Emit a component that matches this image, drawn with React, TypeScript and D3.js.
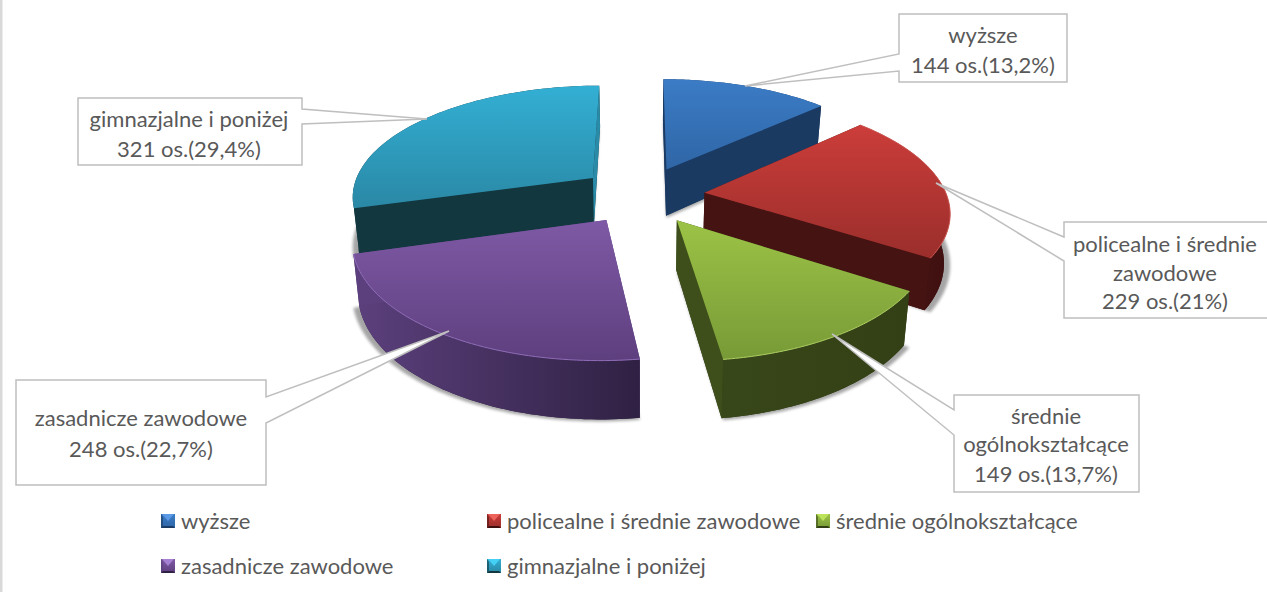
import React from 'react';
import * as d3 from 'd3';

const categories = ['wyższe', 'policealne i średnie zawodowe', 'średnie ogólnokształcące', 'zasadnicze zawodowe', 'gimnazjalne i poniżej'];
const counts = [144, 229, 149, 248, 321];

// callout text, one entry per category
const calloutLines = [
  ['wyższe', '144 os.(13,2%)'],
  ['policealne i średnie', 'zawodowe', '229 os.(21%)'],
  ['średnie', 'ogólnokształcące', '149 os.(13,7%)'],
  ['zasadnicze zawodowe', '248 os.(22,7%)'],
  ['gimnazjalne i poniżej', '321 os.(29,4%)'],
];

const faceTop = ['#3b7cc6', '#cb3d3a', '#9cc346', '#7e59a5', '#33afd4'];
const faceBottom = ['#2f66a6', '#9a2e2b', '#789a37', '#5e3f7e', '#2a88a5'];
const wallLeft = ['#1b3b64', '#4c1514', '#38471a', '#5c407d', '#12373f'];
const wallRight = ['#1b3b64', '#3f1010', '#334015', '#2f2143', '#12373f'];
const endWallFill = ['#1b3a62', '#451312', '#3e4f1c', '#5c407d', '#2a8ba8'];
const rimColor = ['none', '#d05a55', '#aecf63', '#8f6db8', 'none'];
const markerLight = ['#5b9ae6', '#ee625c', '#bce35a', '#a47fd2', '#45d0f5'];

// draw order, back to front
const paintOrder = [0, 4, 1, 3, 2];

// pie projection
const cx = 642;
const cy = 195;
const radiusX = 242;
const radiusY = 111;
const perspective = 0.151;
const explode = 0.26;
const depth = 48;
const bottomShrink = 0.98;

const callouts = [
  { x: 899, y: 14, w: 168, h: 68, tip: [745, 86], a: 54, b: 71, tx: 983, ty: [35, 65] },
  { x: 1064, y: 222, w: 204, h: 96, tip: [936, 183], a: 237, b: 261, tx: 1165, ty: [244, 273, 301] },
  { x: 954, y: 395, w: 185, h: 97, tip: [832, 334], a: 410, b: 435, tx: 1046, ty: [416, 444, 474] },
  { x: 16, y: 380, w: 250, h: 105, tip: [449, 331], a: 397, b: 423, tx: 141, ty: [418, 449] },
  { x: 78, y: 98, w: 224, h: 67, tip: [427, 119], a: 109, b: 124, tx: 189, ty: [119, 149] },
];

const legendPos = [[161, 521], [487, 521], [816, 521], [161, 566], [487, 566]];
const FONT = 'Lato, "Open Sans", sans-serif';
const TEXT = '#595959';
const LABEL_SIZE = 22;

type P = [number, number];

const project = (u: number, c: number, low: boolean): P => {
  const d = 1 + perspective * c;
  const sx = (radiusX * u) / d;
  return [cx + (low ? sx * bottomShrink : sx), cy - (radiusY * c) / d + (low ? depth / d : 0)];
};

const line = d3.line<P>().x(d => d[0]).y(d => d[1]);
const closed = (pts: P[]) => line(pts) + 'Z';

const arcs = d3.pie<number>().sort(null)(counts);

const slices = arcs.map((a, i) => {
  const mid = (a.startAngle + a.endAngle) / 2;
  const ou = explode * Math.sin(mid);
  const oc = explode * Math.cos(mid);
  const angles = d3.range(0, 61).map(j => a.startAngle + ((a.endAngle - a.startAngle) * j) / 60);
  const at = (t: number, low: boolean) => project(ou + Math.sin(t), oc + Math.cos(t), low);
  const apexT = project(ou, oc, false);
  const apexB = project(ou, oc, true);
  const arcT = angles.map(t => at(t, false));
  const arcB = angles.map(t => at(t, true));
  const shadow = angles.map(t => {
    const p = project(ou + Math.sin(t), oc + Math.cos(t), false);
    const d = 1 + perspective * (oc + Math.cos(t));
    return [p[0], p[1] + depth / d + 2] as P;
  });
  const apexS: P = [apexT[0], apexB[1] + 2];
  return {
    i,
    top: closed([apexT, ...arcT]),
    rim: line(arcT) as string,
    outer: closed([...arcT, ...[...arcB].reverse()]),
    start: closed([apexT, arcT[0], arcB[0], apexB]),
    end: closed([apexT, arcT[60], arcB[60], apexB]),
    bottom: closed([apexB, ...arcB]),
    shadow: closed([apexS, ...shadow]),
  };
});

const calloutPath = (c: typeof callouts[number], i: number) => {
  const r = c.x + c.w;
  const b = c.y + c.h;
  // the wedge leaves the box on the side that faces the pie
  const pts: P[] = i === 0 || i === 1 || i === 2
    ? [[c.x, c.y], [r, c.y], [r, b], [c.x, b], [c.x, c.b], c.tip as P, [c.x, c.a]]
    : [[c.x, c.y], [r, c.y], [r, c.a], c.tip as P, [r, c.b], [r, b], [c.x, b]];
  return closed(pts);
};

export default function App() {
  return (
    <svg
      width={1267}
      height={592}
      viewBox="0 0 1267 592"
      style={{ position: 'absolute', left: 0, top: 0, background: '#fff', fontFamily: FONT }}
    >
      <defs>
        <filter id="soft" x="-10%" y="-10%" width="120%" height="120%">
          <feGaussianBlur stdDeviation="1.5" />
        </filter>
        {categories.map((_, i) => (
          <React.Fragment key={i}>
            <linearGradient id={`face${i}`} x1="0" y1="0" x2="0" y2="1">
              <stop offset="0" stopColor={faceTop[i]} />
              <stop offset="1" stopColor={faceBottom[i]} />
            </linearGradient>
            <linearGradient id={`wall${i}`} x1="0" y1="0" x2="1" y2="0">
              <stop offset="0" stopColor={wallLeft[i]} />
              <stop offset="1" stopColor={wallRight[i]} />
            </linearGradient>
          </React.Fragment>
        ))}
      </defs>

      <rect x={0} y={0} width={2.5} height={592} fill="#d9d9d9" />

      {paintOrder.map(k => {
        const s = slices[k];
        return (
          <g key={k}>
            <path d={s.shadow} fill="#000" opacity={0.35} filter="url(#soft)" />
            <path d={s.bottom} fill={wallRight[k]} />
            <path d={s.start} fill={wallLeft[k]} />
            <path d={s.outer} fill={`url(#wall${k})`} />
            <path d={s.end} fill={endWallFill[k]} />
            <path d={s.top} fill={`url(#face${k})`} />
            <path d={s.rim} fill="none" stroke={rimColor[k]} strokeWidth={1} />
          </g>
        );
      })}

      {callouts.map((c, i) => (
        <g key={i}>
          <path d={calloutPath(c, i)} fill="#fff" stroke="#bfbfbf" strokeWidth={1.5} />
          {calloutLines[i].map((t, j) => (
            <text key={j} x={c.tx} y={c.ty[j]} dy="0.35em" textAnchor="middle" fontSize={LABEL_SIZE} fill={TEXT}>
              {t}
            </text>
          ))}
        </g>
      ))}

      {categories.map((name, i) => {
        const [x, y] = legendPos[i];
        return (
          <g key={i}>
            <rect x={x} y={y - 7} width={14} height={14} fill={`url(#face${i})`} />
            <path d={closed([[x + 1, y - 7], [x + 13, y - 7], [x + 7, y]])} fill={markerLight[i]} />
            <path d={closed([[x, y + 7], [x + 14, y + 7], [x + 12, y + 5], [x + 2, y + 5]])} fill={wallRight[i]} />
            <path d={closed([[x, y - 7], [x + 2, y - 4], [x + 2, y + 5], [x, y + 7]])} fill={wallLeft[i]} opacity={0.6} />
            <text x={x + 20} y={y} dy="0.35em" fontSize={LABEL_SIZE} fill={TEXT}>
              {name}
            </text>
          </g>
        );
      })}
    </svg>
  );
}
